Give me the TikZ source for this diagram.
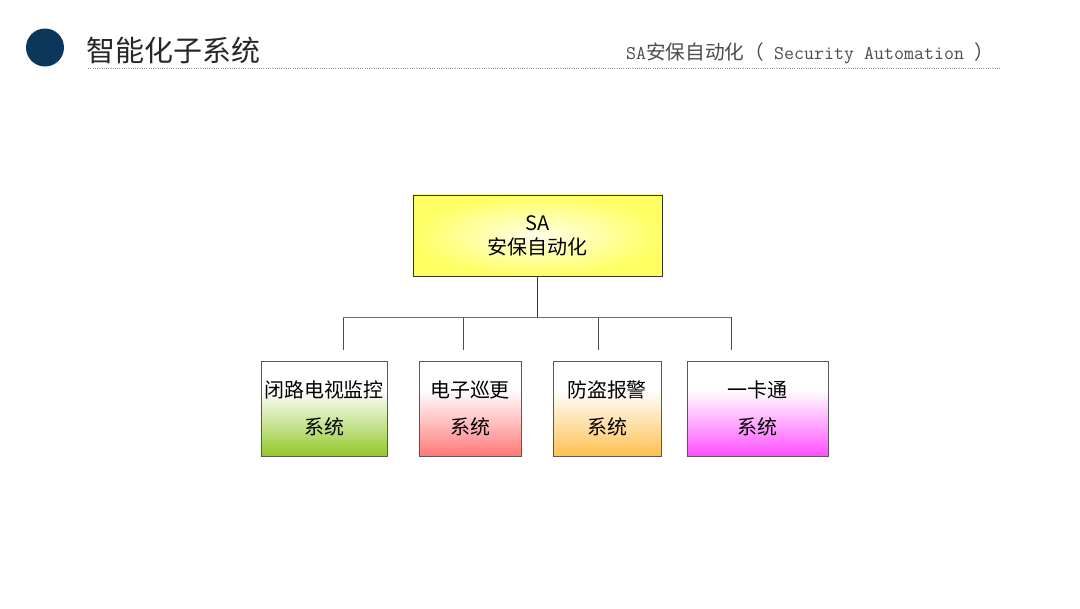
\documentclass[tikz,border=0pt]{standalone}
\usepackage{fontspec}
\setmainfont{Noto Sans CJK SC}
\newfontfamily\cjk{Noto Sans CJK SC}
\usepackage{xcolor}
\usepackage{tikz}
\usetikzlibrary{positioning}

\definecolor{navy}{RGB}{12,55,90}
\definecolor{saedge}{RGB}{255,255,100}
\definecolor{sacore}{RGB}{255,255,232}
\definecolor{cctvc}{RGB}{146,200,40}
\definecolor{patrolc}{RGB}{255,120,120}
\definecolor{alarmc}{RGB}{255,192,80}
\definecolor{cardc}{RGB}{255,80,255}
\definecolor{busc}{RGB}{100,100,180}

\pgfdeclareverticalshading{cctvfade}{100bp}{color(0bp)=(cctvc); color(25bp)=(cctvc); color(42bp)=(cctvc!50!white); color(60bp)=(white); color(100bp)=(white)}
\pgfdeclareverticalshading{patrolfade}{100bp}{color(0bp)=(patrolc); color(25bp)=(patrolc); color(42bp)=(patrolc!50!white); color(60bp)=(white); color(100bp)=(white)}
\pgfdeclareverticalshading{alarmfade}{100bp}{color(0bp)=(alarmc); color(25bp)=(alarmc); color(42bp)=(alarmc!50!white); color(60bp)=(white); color(100bp)=(white)}
\pgfdeclareverticalshading{cardfade}{100bp}{color(0bp)=(cardc); color(25bp)=(cardc); color(42bp)=(cardc!50!white); color(60bp)=(white); color(100bp)=(white)}

\begin{document}
\begin{tikzpicture}[x=0.025cm,y=-0.025cm,
  sabox/.style={draw=black!80,inner sep=0pt,minimum width=6.225cm,minimum height=2.025cm,
    inner color=sacore,outer color=saedge,align=center,font=\fontsize{14.2pt}{17pt}\selectfont},
  subbox/.style={draw=black!65,inner sep=0pt,minimum height=2.375cm,align=center,
    font=\fontsize{14.2pt}{26.3pt}\selectfont},
  wire/.style={draw=black!80,line width=0.6pt},
  busline/.style={draw=busc,line width=0.7pt},
  drop/.style={draw=black!70,line width=0.6pt}]
\useasboundingbox (0,0) rectangle (1080,608);
% header
\fill[navy] (45,47.5) circle (19);
\node[anchor=west,inner sep=0pt,text=black!85,font=\fontsize{20.6pt}{24pt}\selectfont] (title) at (86,50) {智能化子系统};
\node[anchor=east,inner sep=0pt,text=black!70] (subtitle) at (994,53)
  {{\ttfamily\fontsize{13.8pt}{14pt}\selectfont SA}{\fontsize{14pt}{16pt}\selectfont 安保自动化（}{\ttfamily\fontsize{13.8pt}{14pt}\selectfont\ Security Automation }{\fontsize{14pt}{16pt}\selectfont ）}};
\draw[black!45,densely dotted,line width=0.6pt] (88,68) -- (1000,68);
% tree
\node[sabox] (sa) at (537.5,235.5) {SA\\安保自动化};
\node[subbox,minimum width=3.15cm,shading=cctvfade] (cctv) at (324,408.5) {闭路电视监控\\系统};
\node[subbox,minimum width=2.55cm,shading=patrolfade] (patrol) at (470,408.5) {电子巡更\\系统};
\node[subbox,minimum width=2.7cm,shading=alarmfade] (alarm) at (607,408.5) {防盗报警\\系统};
\node[subbox,minimum width=3.525cm,shading=cardfade] (card) at (757.5,408.5) {一卡通\\系统};
\coordinate (bus) at (537,317);
\coordinate (d1) at (343,350);
\coordinate (d2) at (463,350);
\coordinate (d3) at (598,350);
\coordinate (d4) at (731,350);
\draw[wire] (sa.south -| bus) -- (bus);
\foreach \i in {1,...,4}
  \draw[drop] (d\i |- bus) -- (d\i);
\draw[busline] (d1 |- bus) -- (d4 |- bus);
\end{tikzpicture}
\end{document}
